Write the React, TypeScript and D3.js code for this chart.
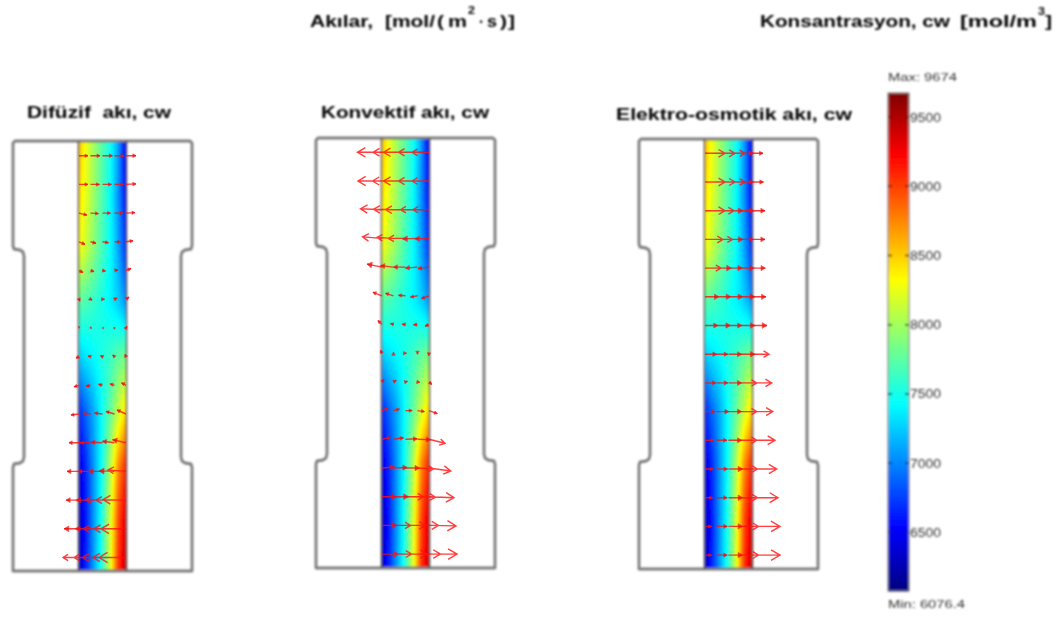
import React, { useEffect, useRef } from "react";
import * as d3 from "d3";

// concentration [mol/m3] across the channel (left to right), rows from top to bottom
const fieldRows = [
  [8600, 8270, 7990, 7730, 7490, 7100, 6450],
  [8480, 8230, 7960, 7710, 7450, 7050, 6550],
  [8350, 8130, 7900, 7660, 7450, 7120, 6700],
  [7750, 7680, 7600, 7500, 7400, 7270, 7050],
  [7250, 7340, 7420, 7520, 7620, 7750, 7850],
  [6650, 6900, 7150, 7450, 7750, 8100, 8450],
  [6400, 6680, 7080, 7480, 8020, 8700, 9100],
  [6280, 6620, 7080, 7530, 8150, 8950, 9350],
  [6250, 6650, 7100, 7550, 8200, 9050, 9450],
];

const colorTicks = [9500, 9000, 8500, 8000, 7500, 7000, 6500];
const minValue = 6076.4;
const maxValue = 9674;
// jet
const jetPositions = [0, 0.125, 0.375, 0.625, 0.875, 1];
const jetColors = ["#000080", "#0000ff", "#00ffff", "#ffff00", "#ff0000", "#800000"];

// flux arrows, 15 rows x 5 columns (along x and along y, px-sized units)
const diffU = [
  [9, 9.5, 10, 9.5, 10],
  [9, 9, 9, 9.5, 10],
  [8, 8, 8, 8.5, 9],
  [6, 5.5, 6, 6, 7],
  [4, 3.5, 3, 3.5, 5],
  [1, 1.5, 2, 2.5, 3],
  [0, -0.5, -0.3, 0.5, 1],
  [-3, -2.5, -2, -1.8, -1],
  [-5, -4.5, -4, -4.5, -4.5],
  [-8, -7.5, -8, -8.5, -9],
  [-10, -10.5, -11.5, -12, -13.5],
  [-12, -12.5, -14, -15.5, -18],
  [-13, -14.5, -17, -18.5, -23],
  [-15, -15.5, -19, -20.5, -25],
  [-16, -16.5, -20, -21.5, -27],
];
const diffV = [
  [0, 0, 0, 0, 0],
  [0, 0, 0, 0, 0.5],
  [-2, -0.5, 0, 0, 0.5],
  [-2.5, -1.5, -1, 0, 1],
  [-2, -1, -0.5, 0.5, 2],
  [-2, -1, 0, 1, 2],
  [-0.3, -0.3, 0, 0.5, 1.5],
  [-1.5, 0.7, 1, 1.7, 2.4],
  [-1.5, -1, 1, 1.5, 2.5],
  [-1, 0.5, 1, 2.5, 4],
  [0, 0, 0.5, 1.5, 3],
  [0, 0, 0, 0.5, 1.5],
  [0, 0, 0, 0, 0.5],
  [0, 0, 0, 0, 0],
  [0, 0, 0, 0, 0],
];
const convU = [
  [-24.5, -20.5, -22, -19, -17],
  [-24, -21, -22, -19, -17],
  [-21.5, -20, -20, -17, -16],
  [-19.5, -16.5, -17, -15, -14],
  [-15, -13, -12, -12, -11],
  [-9, -8, -7, -7, -7.5],
  [-4, -3, -3.3, -4, -4],
  [-1.5, 0, 1, 0, -0.3],
  [2, 2.7, 2, 2.3, 2.7],
  [6, 6, 6.7, 7, 8.3],
  [8.5, 10, 11.7, 13, 16],
  [12.5, 13.7, 14, 16, 21.7],
  [14.5, 15, 18, 18, 25],
  [15, 17, 20, 21, 27],
  [16, 18, 21.7, 23, 28],
];
const convV = [
  [0, 0, 0, 0, 0],
  [0, 0, 0, 0, 0],
  [1, 0.5, 0, 0, 0],
  [1.5, 1, 0, -0.5, -0.5],
  [3, 1.5, 0, -1, -1.5],
  [3.5, 2.5, 0.5, -1.3, -2.7],
  [4, 1, 0.3, -0.3, -1.7],
  [3, 1, 0, -1, -2.5],
  [2.5, 1.5, 0.5, -0.5, -2.5],
  [2.5, 1.5, 0, -1, -3],
  [2, 1.5, 0.5, -0.5, -4],
  [1, 0.5, 0, -1, -3],
  [0, 0, 0, -0.5, -1],
  [0, 0, 0, 0, -0.5],
  [0, 0, 0, 0, 0],
];
const osmoU = [
  [20, 18.5, 16.5, 13, 11],
  [20, 18.5, 16.5, 13, 11.5],
  [20, 17.5, 14.5, 13.6, 13],
  [18, 16, 14.5, 13, 13],
  [16, 15, 14, 13.6, 13.3],
  [14, 14.4, 14.2, 14.6, 14],
  [13, 14, 13.5, 14.6, 15],
  [11.7, 11.4, 13.2, 14.6, 17],
  [11, 11.4, 13.2, 16.3, 19.7],
  [10, 12.4, 13.2, 16.3, 20.7],
  [9, 10.4, 13.2, 16.3, 23],
  [8, 11, 14.2, 17, 24.7],
  [7.7, 10.7, 14.2, 17, 26],
  [6.7, 10.7, 14.2, 18, 28],
  [6.7, 10.7, 14.2, 18, 28],
];

// outline of the part, model units (left half, mirrored when drawn)
const outlineX = [2, 0, 0, 1, 7, 10, 11, 11, 10, 7, 1, 0, 0, 2];
const outlineY = [0, 2, 105, 108, 109, 111, 115, 316, 320, 322, 323, 326, 430, 430];

const panels = [
  { title: "Difüzif  akı, cw", titleX: 27, titleW: 144, titleY: 118, left: 13, top: 141, firstRow: 155.7, u: diffU, v: diffV },
  { title: "Konvektif akı, cw", titleX: 321, titleW: 168, titleY: 118, left: 316, top: 138, firstRow: 152.3, u: convU, v: convV },
  { title: "Elektro-osmotik akı, cw", titleX: 616, titleW: 236, titleY: 120, left: 639, top: 139, firstRow: 153.3, u: osmoU, v: null },
];

// header pieces: text, x, width, baseline, superscript
const flowHeader: [string, number, number, number, boolean][] = [
  ["Akılar,", 310, 63, 27, false],
  ["[mol/", 385, 50, 27, false],
  ["(", 437, 7, 27, false],
  ["m", 448, 19, 27, false],
  ["2", 468, 7, 14, true],
  ["·", 479, 5, 27, false],
  ["s", 487, 10, 27, false],
  [")", 500, 7, 27, false],
  ["]", 508, 7, 27, false],
];
const concHeader: [string, number, number, number, boolean][] = [
  ["Konsantrasyon, cw", 760, 190, 27, false],
  ["[mol/m", 960, 77, 27, false],
  ["3", 1038, 7, 15, true],
  ["]", 1045, 7, 27, false],
];

const partWidth = 179;
const partHeight = 430;
const channelLeft = 65.5;
const channelWidth = 48;
const rowStep = 28.7;
const columnFractions = [0.01, 0.25, 0.5, 0.75, 0.99];

const FONT = "'Liberation Sans', Arial, sans-serif";

export default function App() {
  const ref = useRef<SVGSVGElement>(null);

  useEffect(() => {
    const svg = d3.select(ref.current);
    svg.selectAll("*").remove();

    const defs = svg.append("defs");
    const addBlur = (id: string, amount: number) =>
      defs
        .append("filter")
        .attr("id", id)
        .attr("filterUnits", "userSpaceOnUse")
        .attr("x", 0)
        .attr("y", 0)
        .attr("width", 1061)
        .attr("height", 619)
        .append("feGaussianBlur")
        .attr("stdDeviation", amount);
    addBlur("soft", 0.8);
    addBlur("softArrow", 0.75);

    const root = svg.append("g").attr("filter", "url(#soft)");
    const arrowLayer = svg.append("g").attr("filter", "url(#softArrow)");

    const jet = d3
      .scaleLinear<string>()
      .domain(jetPositions.map((p) => minValue + p * (maxValue - minValue)))
      .range(jetColors)
      .clamp(true);

    const rowInterp = d3.piecewise(d3.interpolateArray, fieldRows) as (t: number) => number[];

    panels.forEach((p) => {
      const g = root.append("g");
      const xS = d3.scaleLinear().domain([0, partWidth]).range([p.left, p.left + partWidth]);
      const yS = d3.scaleLinear().domain([0, partHeight]).range([p.top, p.top + partHeight]);

      // concentration field, small cells
      const cell = 2;
      const cells: { x: number; y: number; c: string }[] = [];
      for (let y = 0; y < partHeight; y += cell) {
        const across = d3.piecewise(d3.interpolateNumber, [...rowInterp(y / partHeight)]);
        for (let x = 0; x < channelWidth; x += cell) {
          cells.push({ x, y, c: jet(across((x + cell / 2) / channelWidth)) });
        }
      }
      g.append("g")
        .selectAll("rect")
        .data(cells)
        .join("rect")
        .attr("x", (d) => Math.floor(xS(channelLeft)) + d.x)
        .attr("y", (d) => yS(d.y))
        .attr("width", cell)
        .attr("height", cell)
        .attr("fill", (d) => d.c);

      // outline
      const left = outlineX.map((x, i) => [x, outlineY[i]]);
      const right = left.map(([x, y]) => [partWidth - x, y]).reverse();
      const line = d3
        .line<number[]>()
        .x((d) => xS(d[0]))
        .y((d) => yS(d[1]));
      g.append("path")
        .attr("d", line([...left, ...right]) + "Z")
        .attr("fill", "none")
        .attr("stroke", "#7c7c7c")
        .attr("stroke-width", 2.8)
        .attr("stroke-linejoin", "round");

      // channel walls
      [channelLeft, channelLeft + channelWidth].forEach((cx) => {
        g.append("line")
          .attr("x1", xS(cx))
          .attr("x2", xS(cx))
          .attr("y1", yS(0))
          .attr("y2", yS(partHeight))
          .attr("stroke", "#555")
          .attr("stroke-width", 1.6);
      });

      // arrows
      const shafts: string[] = [];
      const blobs: string[] = [];
      p.u.forEach((row, r) => {
        row.forEach((u, c) => {
          const v = p.v ? p.v[r][c] : 0;
          const x0 = xS(channelLeft + columnFractions[c] * channelWidth);
          const y0 = p.firstRow + r * rowStep;
          const x1 = x0 + u;
          const y1 = y0 - v;
          const len = Math.hypot(u, v);
          if (len < 0.2) return;
          const back = len < 1 ? 1.5 : Math.max(len * 0.32, 3);
          const side = len < 1 ? 1 : Math.max(len * 0.19, 1.7);
          const ux = u / len;
          const uy = -v / len;
          const shaft = d3.path();
          shaft.moveTo(x0, y0);
          shaft.lineTo(x1, y1);
          const head = d3.path();
          head.moveTo(x1 - ux * back - uy * side, y1 - uy * back + ux * side);
          head.lineTo(x1, y1);
          head.lineTo(x1 - ux * back + uy * side, y1 - uy * back - ux * side);
          if (len < 16) {
            head.closePath();
            blobs.push(head.toString());
          } else {
            shafts.push(head.toString());
          }
          shafts.push(shaft.toString());
        });
      });
      const ag = arrowLayer.append("g");
      ag.append("path")
        .attr("d", shafts.join(""))
        .attr("fill", "none")
        .attr("stroke", "#ff1010")
        .attr("stroke-width", 1.4)
        .attr("stroke-opacity", 0.8);
      ag.append("path")
        .attr("d", blobs.join(""))
        .attr("fill", "#f01010")
        .attr("stroke", "#f01010")
        .attr("stroke-width", 0.6)
        .attr("opacity", 0.8);

      // title
      g.append("text")
        .attr("x", p.titleX)
        .attr("y", p.titleY)
        .attr("textLength", p.titleW)
        .attr("lengthAdjust", "spacingAndGlyphs")
        .style("white-space", "pre")
        .attr("font-family", FONT)
        .attr("font-weight", "bold")
        .attr("font-size", 16.5)
        .attr("fill", "#000")
        .text(p.title);
    });

    // headers
    [...flowHeader, ...concHeader].forEach(([s, x, w, y, sup]) => {
      root
        .append("text")
        .attr("x", x)
        .attr("y", y)
        .attr("textLength", w)
        .attr("lengthAdjust", "spacingAndGlyphs")
        .attr("font-family", FONT)
        .attr("font-weight", "bold")
        .attr("font-size", sup ? 11 : 16.5)
        .attr("fill", "#000")
        .text(s);
    });

    // colour bar
    const barX = 888;
    const barW = 21;
    const barY = d3.scaleLinear().domain([minValue, maxValue]).range([591, 93]);
    const bar = root.append("g");
    const barRows = d3.range(93, 591);
    bar
      .append("g")
      .selectAll("rect")
      .data(barRows)
      .join("rect")
      .attr("x", barX)
      .attr("y", (d) => d)
      .attr("width", barW)
      .attr("height", 1.5)
      .attr("fill", (d) => jet(barY.invert(d + 0.5)));
    bar
      .append("rect")
      .attr("x", barX)
      .attr("y", 93)
      .attr("width", barW)
      .attr("height", 498)
      .attr("fill", "none")
      .attr("stroke", "#8a8a8a")
      .attr("stroke-width", 1.2);

    colorTicks.forEach((t) => {
      const y = barY(t);
      bar
        .append("path")
        .attr("d", `M${barX},${y}h4M${barX + barW - 4},${y}h4`)
        .attr("stroke", "#222")
        .attr("stroke-width", 1.4);
      bar
        .append("text")
        .attr("x", barX + barW + 1)
        .attr("y", y + 4.5)
        .attr("textLength", 31)
        .attr("lengthAdjust", "spacingAndGlyphs")
        .attr("font-family", FONT)
        .attr("font-size", 12)
        .attr("fill", "#333")
        .text(t);
    });
    const note = (y: number, w: number, s: string) =>
      bar
        .append("text")
        .attr("x", 888)
        .attr("y", y)
        .attr("textLength", w)
        .attr("lengthAdjust", "spacingAndGlyphs")
        .attr("font-family", FONT)
        .attr("font-size", 11)
        .attr("fill", "#333")
        .text(s);
    note(81, 69, `Max: ${maxValue}`);
    note(608, 77, `Min: ${minValue}`);
  }, []);

  return (
    <svg
      ref={ref}
      width={1061}
      height={619}
      style={{ position: "absolute", left: 0, top: 0, background: "#fff" }}
    />
  );
}
